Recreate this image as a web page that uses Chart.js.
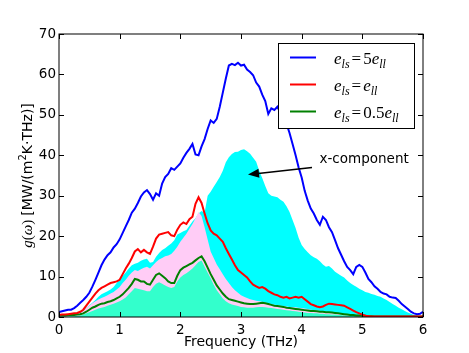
<!DOCTYPE html>
<html>
<head>
<meta charset="utf-8">
<script src="https://cdn.jsdelivr.net/npm/chart.js@4.4.1/dist/chart.umd.min.js"></script>
<style>
body { margin: 0; background: #fff; }
</style>
</head>
<body>
<canvas id="myChart" width="469" height="353"></canvas>
<script>
// frequency grid, 0 to 6 THz every 0.05
var freq = [];
for (var i = 0; i <= 120; i++) freq.push(Math.round(i * 5) / 100);

// total g(w) curves
var blueLine = [
  1.2, 1.4, 1.6, 1.8, 1.8, 2.2, 2.8, 3.5, 4.2, 5.0,
  6.0, 7.5, 9.2, 11.0, 12.8, 14.2, 15.3, 16.0, 17.2, 18.0,
  19.2, 20.8, 22.4, 24.0, 25.8, 26.8, 28.2, 29.8, 30.8, 31.4,
  30.4, 29.0, 30.6, 30.0, 33.0, 34.6, 35.4, 36.8, 36.4, 37.2,
  38.0, 39.4, 40.6, 41.6, 42.8, 40.2, 40.0, 42.2, 44.0, 46.5,
  48.6, 48.0, 49.0, 52.0, 55.5, 59.0, 62.2, 62.6, 62.3, 62.9,
  62.2, 62.4, 61.2, 60.6, 59.8, 58.0, 57.0, 55.0, 53.4, 50.2,
  51.6, 51.2, 52.0, 50.5, 49.0, 47.8, 45.5, 42.8, 40.0, 37.0,
  34.5, 31.2, 28.8, 26.8, 25.6, 24.0, 22.8, 24.8, 24.0, 22.2,
  21.0, 19.0, 17.0, 15.4, 13.8, 12.4, 11.6, 10.6, 12.4, 12.9,
  12.4, 11.0, 9.4, 8.6, 7.6, 7.0, 6.2, 5.8, 5.6, 5.0,
  4.8, 4.7, 4.0, 3.2, 2.6, 2.0, 1.3, 0.9, 0.7, 0.8,
  1.3
];
var redLine = [
  0.5, 0.6, 0.6, 0.7, 0.8, 0.9, 1.0, 1.3, 1.8, 2.8,
  3.8, 4.8, 5.8, 6.6, 7.2, 7.6, 8.0, 8.4, 8.6, 8.8,
  9.2, 10.6, 12.0, 13.2, 14.6, 16.2, 16.8, 16.0, 16.6, 16.0,
  15.6, 17.4, 19.4, 20.4, 20.6, 20.8, 21.0, 20.2, 20.0, 21.6,
  22.8, 23.4, 23.0, 24.2, 24.8, 28.0, 29.6, 28.2, 25.6, 23.2,
  21.4, 20.6, 20.2, 19.4, 18.6, 17.0, 15.6, 14.2, 12.8, 11.6,
  11.0, 10.4, 9.8, 8.8, 8.0, 7.6, 7.2, 7.4, 7.0, 6.4,
  6.0, 5.6, 5.4, 5.0, 4.8, 5.0, 4.6, 4.8, 5.0, 4.8,
  5.0, 4.4, 3.8, 3.2, 2.9, 2.6, 2.4, 2.6, 3.0, 3.3,
  3.2, 3.1, 3.0, 2.9, 2.8, 2.4, 2.0, 1.6, 1.2, 0.9,
  0.6, 0.3, 0.2, 0.1, 0.1, 0.1, 0.1, 0.1, 0.1, 0.1,
  0.1, 0.1, 0.1, 0.1, 0.1, 0.1, 0.1, 0.1, 0.1, 0.1,
  0.1
];
var greenLine = [
  0.4, 0.4, 0.4, 0.5, 0.5, 0.5, 0.6, 0.7, 0.9, 1.3,
  1.8, 2.3, 2.6, 3.0, 3.3, 3.4, 3.7, 3.9, 4.2, 4.6,
  5.0, 5.6, 6.4, 7.2, 8.2, 9.4, 9.2, 8.8, 8.8, 8.2,
  8.0, 9.2, 10.4, 10.8, 10.2, 9.6, 8.8, 8.4, 8.4, 10.2,
  11.6, 12.2, 12.6, 13.0, 13.4, 14.0, 14.6, 15.0, 13.8, 12.2,
  10.6, 9.2, 7.8, 6.8, 5.8, 5.0, 4.4, 4.2, 4.0, 3.8,
  3.6, 3.4, 3.3, 3.2, 3.2, 3.3, 3.4, 3.5, 3.4, 3.2,
  3.0, 2.8, 2.7, 2.6, 2.5, 2.3, 2.2, 2.1, 2.0, 1.9,
  1.8, 1.7, 1.6, 1.5, 1.5, 1.4, 1.3, 1.3, 1.2, 1.2,
  1.1, 1.0, 0.9, 0.8, 0.7, 0.6, 0.5, 0.5, 0.4, 0.4,
  0.3, 0.3, 0.2, 0.2, 0.1, 0.1, 0.1, 0.1, 0.1, 0.1,
  0.1, 0.1, 0.1, 0.1, 0.1, 0.1, 0.1, 0.1, 0.1, 0.1,
  0.1
];

// x-components (filled)
var blueX = [
  0.4, 0.5, 0.6, 0.7, 0.8, 0.9, 1.1, 1.4, 1.8, 2.3,
  2.9, 3.5, 4.2, 5.0, 5.6, 6.0, 6.4, 6.8, 7.4, 8.4,
  9.4, 10.2, 11.0, 12.0, 12.8, 13.2, 13.4, 13.9, 14.2, 14.4,
  13.4, 13.6, 14.9, 15.8, 16.6, 17.0, 17.6, 18.2, 19.0, 20.4,
  20.8, 21.2, 21.5, 22.6, 23.6, 24.4, 25.6, 26.2, 25.8, 30.0,
  31.0, 32.2, 33.4, 34.6, 36.2, 38.3, 39.5, 40.3, 40.8, 40.9,
  41.3, 41.5, 41.0, 40.4, 39.4, 38.4, 36.2, 34.4, 32.4, 30.6,
  30.0, 29.8, 29.6, 29.0, 28.5, 27.4, 26.0, 24.0, 22.0, 19.6,
  17.8, 16.8, 16.0, 15.3, 14.8, 14.4, 13.8, 13.0, 12.4, 12.6,
  12.0, 11.2, 10.7, 10.2, 9.8, 9.0, 8.4, 7.9, 7.5, 7.0,
  6.6, 6.2, 6.0, 5.7, 5.5, 5.2, 5.0, 4.6, 4.2, 3.7,
  3.2, 2.8, 2.3, 1.9, 1.5, 1.1, 0.8, 0.5, 0.3, 0.2,
  0.1
];
var redX = [
  0.3, 0.3, 0.4, 0.4, 0.5, 0.6, 0.7, 1.0, 1.5, 2.2,
  2.8, 3.4, 3.9, 4.3, 4.7, 5.0, 5.4, 5.8, 6.2, 6.8,
  7.4, 8.4, 9.2, 10.2, 11.0, 11.6, 11.4, 11.8, 12.2, 12.4,
  12.0, 12.8, 13.6, 14.2, 14.6, 15.0, 15.2, 15.6, 16.4, 17.4,
  18.6, 19.6, 20.6, 21.8, 23.0, 24.4, 26.0, 25.0, 22.2, 19.2,
  16.2, 14.6, 13.0, 11.8, 10.6, 9.4, 8.4, 7.4, 6.6, 6.0,
  5.4, 5.0, 4.7, 4.4, 4.2, 4.0, 3.9, 3.8, 3.6, 3.4,
  3.2, 3.0, 2.9, 2.8, 2.7, 2.6, 2.5, 2.4, 2.4, 2.3,
  2.2, 2.1, 2.0, 1.8, 1.7, 1.6, 1.5, 1.4, 1.3, 1.2,
  1.1, 1.0, 0.9, 0.8, 0.7, 0.6, 0.5, 0.4, 0.3, 0.3,
  0.2, 0.1, 0.1, 0.1, 0.1, 0.1, 0.1, 0.1, 0.1, 0.1,
  0.1, 0.1, 0.1, 0.1, 0.1, 0.1, 0.1, 0.1, 0.1, 0.1,
  0.1
];
var greenX = [
  0.1, 0.1, 0.1, 0.2, 0.2, 0.2, 0.3, 0.4, 0.6, 0.9,
  1.2, 1.5, 1.8, 2.1, 2.3, 2.5, 2.8, 3.0, 3.3, 3.6,
  3.9, 4.3, 4.8, 5.6, 6.4, 7.2, 7.0, 6.8, 6.6, 6.4,
  6.4, 7.4, 8.2, 8.6, 8.2, 7.8, 7.4, 7.2, 7.4, 8.8,
  9.8, 10.4, 10.8, 11.4, 12.0, 12.8, 13.6, 14.0, 12.4, 11.0,
  9.6, 8.0, 6.6, 5.6, 4.6, 3.9, 3.4, 3.1, 2.9, 2.7,
  2.5, 2.4, 2.3, 2.3, 2.3, 2.4, 2.5, 2.5, 2.4, 2.3,
  2.2, 2.1, 2.0, 1.9, 1.8, 1.7, 1.6, 1.5, 1.4, 1.3,
  1.2, 1.1, 1.0, 1.0, 0.9, 0.9, 0.8, 0.8, 0.7, 0.7,
  0.6, 0.6, 0.5, 0.5, 0.4, 0.4, 0.3, 0.3, 0.2, 0.2,
  0.1, 0.1, 0.1, 0.1, 0.1, 0.1, 0.1, 0.1, 0.1, 0.1,
  0.1, 0.1, 0.1, 0.1, 0.1, 0.1, 0.1, 0.1, 0.1, 0.1,
  0.1
];

var xTicks = [0, 1, 2, 3, 4, 5, 6];
var yTicks = [0, 10, 20, 30, 40, 50, 60, 70];
var legendCoef = ["5", "", "0.5"];
var lineColors = ["#0000ff", "#ff0000", "#008000"];

function pts(vals) {
  return vals.map(function (v, i) { return { x: freq[i], y: v }; });
}

var sans = "DejaVu Sans";
var serif = "Liberation Serif";

function drawRun(ctx, x, y, parts) {
  // parts: [text, font, dy, gapAfter]
  parts.forEach(function (p) {
    ctx.font = p[1];
    ctx.fillText(p[0], x, y + p[2]);
    x += ctx.measureText(p[0]).width + (p[3] || 0);
  });
  return x;
}
function runWidth(ctx, parts) {
  var w = 0;
  parts.forEach(function (p) {
    ctx.font = p[1];
    w += ctx.measureText(p[0]).width + (p[3] || 0);
  });
  return w;
}

var decor = {
  id: "decor",
  afterDraw: function (chart) {
    var ctx = chart.ctx;
    var a = chart.chartArea;
    var xs = chart.scales.x, ys = chart.scales.y;
    ctx.save();
    ctx.strokeStyle = "#000";
    ctx.lineWidth = 1;
    // frame
    ctx.strokeRect(a.left, a.top, a.right - a.left, a.bottom - a.top);
    // inward ticks on all sides
    ctx.beginPath();
    xTicks.forEach(function (t) {
      var px = Math.round(xs.getPixelForValue(t)) + 0.5;
      ctx.moveTo(px, a.bottom); ctx.lineTo(px, a.bottom - 5);
      ctx.moveTo(px, a.top); ctx.lineTo(px, a.top + 5);
    });
    yTicks.forEach(function (t) {
      var py = Math.round(ys.getPixelForValue(t)) + 0.5;
      ctx.moveTo(a.left, py); ctx.lineTo(a.left + 5, py);
      ctx.moveTo(a.right, py); ctx.lineTo(a.right - 5, py);
    });
    ctx.stroke();

    // legend
    ctx.fillStyle = "#fff";
    ctx.fillRect(278.5, 43.5, 136, 85);
    ctx.strokeStyle = "#000";
    ctx.strokeRect(278.5, 43.5, 136, 85);
    ctx.fillStyle = "#000";
    ctx.textBaseline = "alphabetic";
    ctx.textAlign = "left";
    var it = "italic 17px '" + serif + "'";
    var itS = "italic 12px '" + serif + "'";
    var up = "17px '" + serif + "'";
    legendCoef.forEach(function (c, k) {
      var ly = 57.5 + k * 27;
      ctx.strokeStyle = lineColors[k];
      ctx.lineWidth = 2;
      ctx.beginPath();
      ctx.moveTo(290, ly); ctx.lineTo(316, ly);
      ctx.stroke();
      var parts = [["e", it, 0, 0], ["ls", itS, 3.5, 2], ["=", up, 0, 2]];
      if (c) parts.push([c, up, 0, 0]);
      parts.push(["e", it, 0, 0], ["ll", itS, 3.5, 0]);
      drawRun(ctx, 334, ly + 6.5, parts);
    });

    // annotation
    ctx.font = "13.5px '" + sans + "'";
    ctx.fillText("x-component", 319.5, 163);
    var x0 = 312, y0 = 167.5, x1 = 248, y1 = 174.5;
    var ang = Math.atan2(y1 - y0, x1 - x0);
    ctx.strokeStyle = "#000";
    ctx.lineWidth = 1.5;
    ctx.beginPath();
    ctx.moveTo(x0, y0);
    ctx.lineTo(x1 - 8 * Math.cos(ang), y1 - 8 * Math.sin(ang));
    ctx.stroke();
    ctx.beginPath();
    ctx.moveTo(x1, y1);
    ctx.lineTo(x1 - 11 * Math.cos(ang) + 4.5 * Math.sin(ang), y1 - 11 * Math.sin(ang) - 4.5 * Math.cos(ang));
    ctx.lineTo(x1 - 11 * Math.cos(ang) - 4.5 * Math.sin(ang), y1 - 11 * Math.sin(ang) + 4.5 * Math.cos(ang));
    ctx.closePath();
    ctx.fill();

    // y axis title
    var yParts = [
      ["g", "italic 15px '" + serif + "'", 0, 0],
      ["(", "15px '" + serif + "'", 0, 0],
      ["\u03c9", "italic 15px '" + serif + "'", 0, 0],
      [")", "15px '" + serif + "'", 0, 4],
      ["[MW/(m", "14px '" + sans + "'", 0, 0],
      ["2", "10px '" + sans + "'", -6, 0],
      ["K\u00b7THz)]", "14px '" + sans + "'", 0, 0]
    ];
    ctx.translate(27, (a.top + a.bottom) / 2);
    ctx.rotate(-Math.PI / 2);
    var w = runWidth(ctx, yParts);
    drawRun(ctx, -w / 2, 5, yParts);
    ctx.restore();
  }
};

new Chart(document.getElementById("myChart"), {
  type: "line",
  data: {
    datasets: [
      { data: pts(blueLine), borderColor: lineColors[0], borderWidth: 2, pointRadius: 0, fill: false },
      { data: pts(redLine), borderColor: lineColors[1], borderWidth: 2, pointRadius: 0, fill: false },
      { data: pts(greenLine), borderColor: lineColors[2], borderWidth: 2, pointRadius: 0, fill: false },
      { data: pts(greenX), borderColor: "rgba(0,0,0,0)", borderWidth: 0, backgroundColor: "#33ffcc", pointRadius: 0, fill: "origin" },
      { data: pts(redX), borderColor: "rgba(0,0,0,0)", borderWidth: 0, backgroundColor: "#ffccf6", pointRadius: 0, fill: "origin" },
      { data: pts(blueX), borderColor: "rgba(0,0,0,0)", borderWidth: 0, backgroundColor: "#00ffff", pointRadius: 0, fill: "origin" }
    ]
  },
  options: {
    responsive: false,
    animation: false,
    devicePixelRatio: 1,
    layout: { padding: { top: 34, right: 46, left: 0, bottom: 0 } },
    plugins: { legend: { display: false }, tooltip: { enabled: false } },
    scales: {
      x: {
        type: "linear",
        min: 0,
        max: 6,
        afterBuildTicks: function (s) { s.ticks = xTicks.map(function (v) { return { value: v }; }); },
        ticks: { padding: 5, color: "#000", font: { family: sans, size: 13.5 } },
        grid: { display: false, drawTicks: false },
        border: { display: false },
        title: { display: true, text: "Frequency (THz)", color: "#000", font: { family: sans, size: 14 }, padding: { top: 0, bottom: 2 } },
        afterFit: function (s) { s.height = 36; }
      },
      y: {
        min: 0,
        max: 70,
        afterBuildTicks: function (s) { s.ticks = yTicks.map(function (v) { return { value: v }; }); },
        ticks: { padding: 3, color: "#000", font: { family: sans, size: 13.5 } },
        grid: { display: false, drawTicks: false },
        border: { display: false },
        afterFit: function (s) { s.width = 59; }
      }
    }
  },
  plugins: [decor]
});
</script>
</body>
</html>
